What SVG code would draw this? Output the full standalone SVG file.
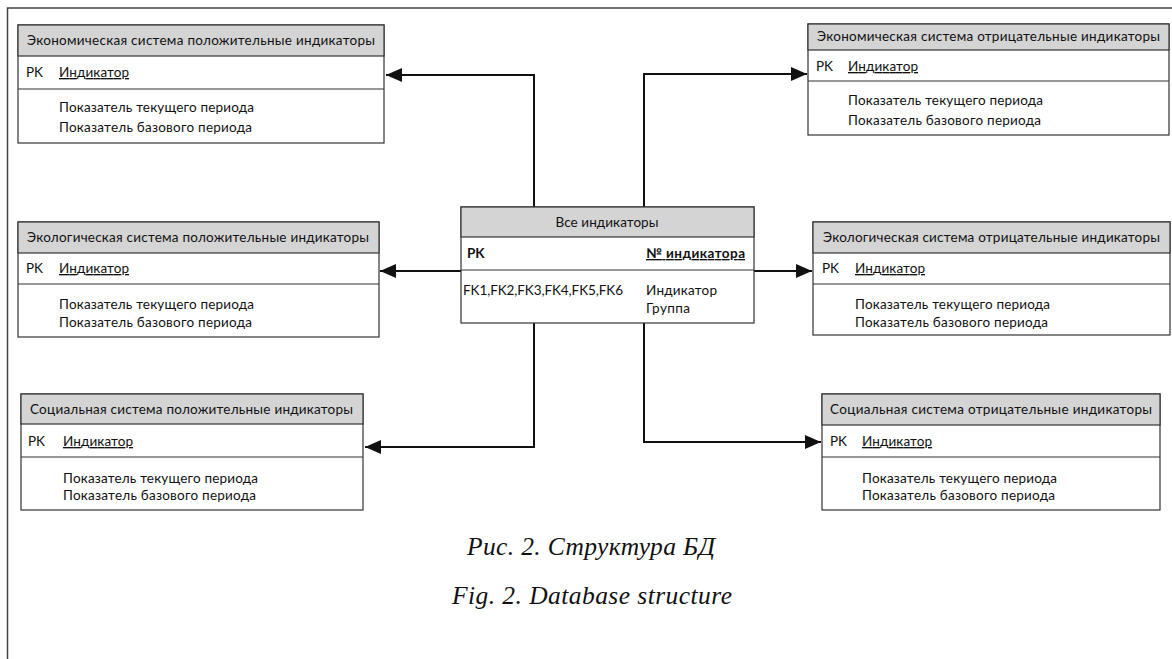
<svg xmlns="http://www.w3.org/2000/svg" width="1172" height="659" viewBox="0 0 1172 659">
<style>
.box{fill:#fff;stroke:#333;stroke-width:1.2}
.hdr{fill:#d4d4d4;stroke:#333;stroke-width:1.2}
.sep{stroke:#333;stroke-width:1.2}
.t{font-family:Lato,"Open Sans",sans-serif;font-size:13.5px;fill:#111}
.c{text-anchor:middle}
.u{text-decoration:underline}
.b{font-weight:bold}
.cap{font-family:"Liberation Serif",serif;font-style:italic;font-size:25.5px;fill:#111;text-anchor:middle}
.conn{fill:none;stroke:#111;stroke-width:2}
.frame{stroke:#444;stroke-width:1.5;fill:none}
</style>
<defs>
<marker id="ah" markerWidth="16" markerHeight="14" refX="16" refY="7" orient="auto" markerUnits="userSpaceOnUse">
<path d="M0,0 L16,7 L0,14 Z" fill="#111"/>
</marker>
</defs>
<rect width="1172" height="659" fill="#fff"/>
<path class="frame" d="M7.5,659 V8 H1172"/>

<g id="connectors">
<path class="conn" d="M534,207 V75 H386" marker-end="url(#ah)"/>
<path class="conn" d="M644,207 V74 H807" marker-end="url(#ah)"/>
<path class="conn" d="M461,271 H380" marker-end="url(#ah)"/>
<path class="conn" d="M754,271 H812" marker-end="url(#ah)"/>
<path class="conn" d="M534,323 V447 H365" marker-end="url(#ah)"/>
<path class="conn" d="M644,323 V442 H821" marker-end="url(#ah)"/>
</g>

<g id="econ-pos">
<rect class="box" x="18" y="25" width="366" height="118"/>
<rect class="hdr" x="18" y="25" width="366" height="31"/>
<line class="sep" x1="18" y1="89" x2="384" y2="89"/>
<text class="t" x="27" y="45" textLength="348">Экономическая система положительные индикаторы</text>
<text class="t" x="26" y="77">PK</text>
<text class="t u" x="59" y="77" textLength="70">Индикатор</text>
<text class="t" x="59" y="112" textLength="195">Показатель текущего периода</text>
<text class="t" x="59" y="132" textLength="193">Показатель базового периода</text>
</g>

<g id="econ-neg">
<rect class="box" x="808" y="24" width="361" height="111"/>
<rect class="hdr" x="808" y="24" width="361" height="26"/>
<line class="sep" x1="808" y1="81" x2="1169" y2="81"/>
<text class="t" x="817" y="41" textLength="343">Экономическая система отрицательные индикаторы</text>
<text class="t" x="816" y="71">PK</text>
<text class="t u" x="848" y="71" textLength="70">Индикатор</text>
<text class="t" x="848" y="105" textLength="195">Показатель текущего периода</text>
<text class="t" x="848" y="125" textLength="193">Показатель базового периода</text>
</g>

<g id="all">
<rect class="box" x="461" y="207" width="293" height="116"/>
<rect class="hdr" x="461" y="207" width="293" height="30"/>
<line class="sep" x1="461" y1="270" x2="754" y2="270"/>
<text class="t c" x="607" y="227" textLength="103">Все индикаторы</text>
<text class="t b" x="467" y="258">PK</text>
<text class="t b u" x="646" y="258" textLength="99">№ индикатора</text>
<text class="t" x="463" y="295" textLength="160">FK1,FK2,FK3,FK4,FK5,FK6</text>
<text class="t" x="646" y="295" textLength="71">Индикатор</text>
<text class="t" x="646" y="313" textLength="44">Группа</text>
</g>

<g id="eco-pos">
<rect class="box" x="18" y="222" width="361" height="115"/>
<rect class="hdr" x="18" y="222" width="361" height="31"/>
<line class="sep" x1="18" y1="284" x2="379" y2="284"/>
<text class="t" x="27" y="242" textLength="342">Экологическая система положительные индикаторы</text>
<text class="t" x="26" y="273">PK</text>
<text class="t u" x="59" y="273" textLength="70">Индикатор</text>
<text class="t" x="59" y="309" textLength="195">Показатель текущего периода</text>
<text class="t" x="59" y="327" textLength="193">Показатель базового периода</text>
</g>

<g id="eco-neg">
<rect class="box" x="813" y="222" width="357" height="113"/>
<rect class="hdr" x="813" y="222" width="357" height="31"/>
<line class="sep" x1="813" y1="284" x2="1170" y2="284"/>
<text class="t" x="823" y="242" textLength="337">Экологическая система отрицательные индикаторы</text>
<text class="t" x="822" y="273">PK</text>
<text class="t u" x="855" y="273" textLength="70">Индикатор</text>
<text class="t" x="855" y="309" textLength="195">Показатель текущего периода</text>
<text class="t" x="855" y="327" textLength="193">Показатель базового периода</text>
</g>

<g id="soc-pos">
<rect class="box" x="21" y="394" width="342" height="116"/>
<rect class="hdr" x="21" y="394" width="342" height="30"/>
<line class="sep" x1="21" y1="457" x2="363" y2="457"/>
<text class="t" x="30" y="414" textLength="323">Социальная система положительные индикаторы</text>
<text class="t" x="28" y="446">PK</text>
<text class="t u" x="63" y="446" textLength="70">Индикатор</text>
<text class="t" x="63" y="483" textLength="195">Показатель текущего периода</text>
<text class="t" x="63" y="500" textLength="193">Показатель базового периода</text>
</g>

<g id="soc-neg">
<rect class="box" x="822" y="394" width="338" height="116"/>
<rect class="hdr" x="822" y="394" width="338" height="31"/>
<line class="sep" x1="822" y1="457" x2="1160" y2="457"/>
<text class="t" x="830" y="414" textLength="322">Социальная система отрицательные индикаторы</text>
<text class="t" x="830" y="446">PK</text>
<text class="t u" x="862" y="446" textLength="70">Индикатор</text>
<text class="t" x="862" y="483" textLength="195">Показатель текущего периода</text>
<text class="t" x="862" y="500" textLength="193">Показатель базового периода</text>
</g>

<text class="cap" x="591" y="555" textLength="248">Рис. 2. Структура БД</text>
<text class="cap" x="592" y="604" textLength="280">Fig. 2. Database structure</text>
</svg>
